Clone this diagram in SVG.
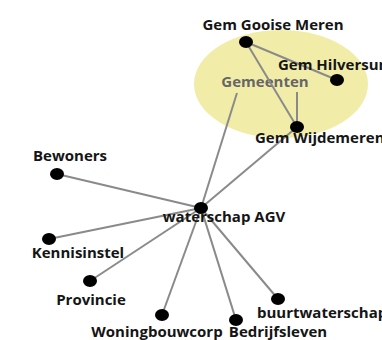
<svg xmlns="http://www.w3.org/2000/svg" width="382" height="340" viewBox="0 0 382 340">
<style>
.lbl{font-family:"Open Sans","Noto Sans",sans-serif;font-weight:bold;font-size:15px;fill:#151515}
.grp{font-family:"Open Sans","Noto Sans",sans-serif;font-weight:bold;font-size:15px;fill:#666}
.edge{stroke:#8a8a8a;stroke-width:2;fill:none}
.dot{fill:#000}
</style>
<rect width="382" height="340" fill="#fff"/>
<g id="group-gemeenten">
<ellipse cx="281" cy="84" rx="87" ry="54" fill="#f1eda9"/>
<text class="grp" x="265" y="87" text-anchor="middle">Gemeenten</text>
</g>
<g id="connectors">
<line class="edge" x1="246" y1="42" x2="337" y2="80"/>
<line class="edge" x1="246" y1="42" x2="297" y2="127"/>
<line class="edge" x1="297" y1="92" x2="297" y2="127"/>
<line class="edge" x1="237" y1="93" x2="201" y2="208"/>
<line class="edge" x1="297" y1="127" x2="201" y2="208"/>
<line class="edge" x1="57" y1="174" x2="201" y2="208"/>
<line class="edge" x1="49" y1="239" x2="201" y2="208"/>
<line class="edge" x1="90" y1="281" x2="201" y2="208"/>
<line class="edge" x1="162" y1="315" x2="201" y2="208"/>
<line class="edge" x1="236" y1="320" x2="201" y2="208"/>
<line class="edge" x1="278" y1="299" x2="201" y2="208"/>
</g>
<g id="n-gooise"><ellipse class="dot" cx="246" cy="42" rx="7" ry="6"/><text class="lbl" x="273" y="30" text-anchor="middle">Gem Gooise Meren</text></g>
<g id="n-hilversum"><ellipse class="dot" cx="337" cy="80" rx="7" ry="6"/><text class="lbl" x="278" y="70">Gem Hilversum</text></g>
<g id="n-wijdemeren"><ellipse class="dot" cx="297" cy="127" rx="7" ry="6"/><text class="lbl" x="255" y="143">Gem Wijdemeren</text></g>
<g id="n-agv"><ellipse class="dot" cx="201" cy="208" rx="7" ry="6"/><text class="lbl" x="224" y="222" text-anchor="middle">waterschap AGV</text></g>
<g id="n-bewoners"><ellipse class="dot" cx="57" cy="174" rx="7" ry="6"/><text class="lbl" x="70" y="161" text-anchor="middle">Bewoners</text></g>
<g id="n-kennis"><ellipse class="dot" cx="49" cy="239" rx="7" ry="6"/><text class="lbl" x="78" y="258" text-anchor="middle">Kennisinstel</text></g>
<g id="n-provincie"><ellipse class="dot" cx="90" cy="281" rx="7" ry="6"/><text class="lbl" x="91" y="305" text-anchor="middle">Provincie</text></g>
<g id="n-woning"><ellipse class="dot" cx="162" cy="315" rx="7" ry="6"/><text class="lbl" x="157" y="337" text-anchor="middle">Woningbouwcorp</text></g>
<g id="n-bedrijf"><ellipse class="dot" cx="236" cy="320" rx="7" ry="6"/><text class="lbl" x="278" y="337" text-anchor="middle">Bedrijfsleven</text></g>
<g id="n-buurt"><ellipse class="dot" cx="278" cy="299" rx="7" ry="6"/><text class="lbl" x="257" y="318">buurtwaterschap</text></g>
</svg>
